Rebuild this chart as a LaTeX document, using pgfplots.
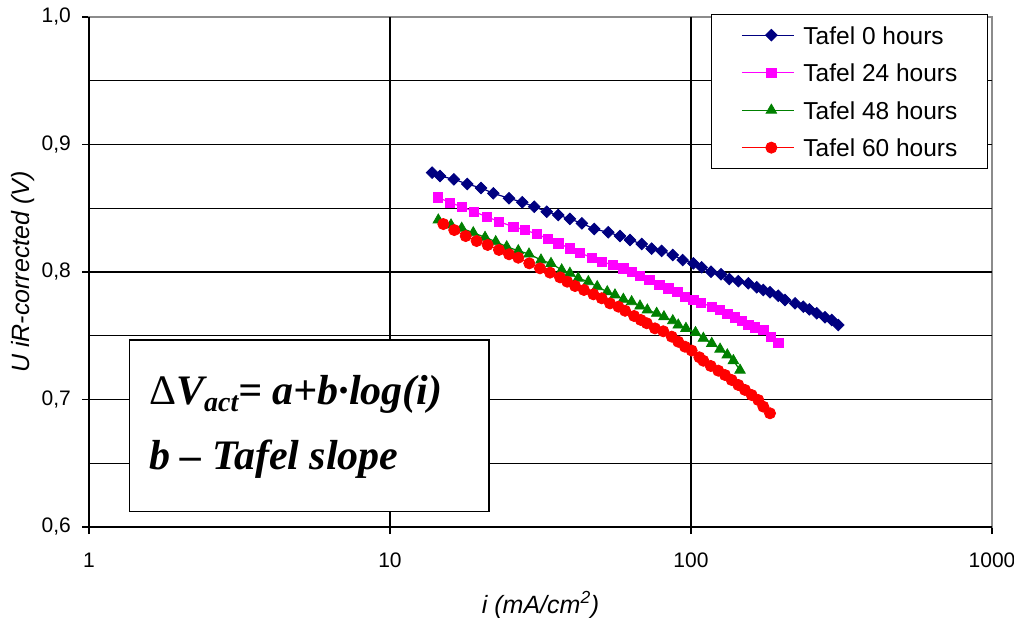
\documentclass[border=0pt]{standalone}
\usepackage{fontspec}
\setmainfont{Liberation Sans}
\newfontfamily\tnr{Liberation Serif}
\usepackage{pgfplots}
\pgfplotsset{compat=1.18}
\definecolor{navyc}{RGB}{0,0,128}
\definecolor{magc}{RGB}{255,0,255}
\definecolor{greenc}{RGB}{0,128,0}
\definecolor{redc}{RGB}{255,0,0}

\pgfplotstableread{
i V
13.8 0.8779
14.66 0.8753
16.3 0.8727
18.06 0.8690
20.06 0.8659
22.04 0.8617
24.86 0.8578
27.52 0.8547
30.16 0.8512
33.16 0.8473
36.2 0.8447
39.6 0.8416
43.4 0.8382
47.7 0.8337
53.1 0.8311
58.1 0.8282
62.7 0.8251
68.6 0.8220
74.0 0.8183
79.9 0.8165
87.0 0.8133
93.8 0.8094
101.8 0.8068
108.5 0.8037
116.5 0.8002
125.8 0.7982
134.1 0.7945
143.6 0.7928
155.0 0.7911
165.3 0.7880
173.9 0.7859
183.0 0.7841
195.0 0.7814
205.3 0.7780
221.6 0.7754
236.1 0.7728
247.2 0.7707
261.6 0.7676
278.8 0.7645
293.5 0.7624
308.7 0.7584
}\tafelA

\pgfplotstableread{
i V
14.41 0.8586
15.83 0.8544
17.31 0.8512
19.02 0.8473
20.96 0.8434
23.02 0.8395
25.68 0.8355
28.09 0.8329
30.73 0.8298
33.42 0.8260
36.24 0.8225
39.6 0.8186
42.8 0.8151
46.8 0.8112
50.5 0.8081
55.0 0.8055
59.6 0.8029
63.5 0.8002
67.7 0.7969
72.7 0.7937
78.5 0.7898
84.1 0.7872
90.1 0.7846
95.5 0.7806
101.8 0.7780
108.0 0.7758
117.2 0.7728
124.9 0.7702
132.0 0.7671
140.0 0.7645
147.4 0.7616
155.0 0.7584
163.2 0.7566
173.9 0.7545
184.0 0.7493
195.0 0.7446
}\tafelB

\pgfplotstableread{
i V
14.47 0.8408
15.95 0.8369
17.31 0.8343
18.91 0.8308
20.69 0.8272
22.45 0.8238
24.42 0.8198
26.68 0.8167
28.96 0.8141
31.74 0.8094
34.27 0.8067
37.19 0.8016
39.6 0.7990
42.2 0.7951
45.6 0.7924
48.8 0.7885
52.7 0.7845
55.9 0.7820
59.6 0.7786
63.5 0.7767
67.7 0.7733
71.6 0.7702
76.9 0.7676
81.3 0.7649
87.0 0.7618
90.7 0.7584
96.2 0.7558
103.5 0.7525
109.9 0.7480
117.2 0.7440
124.9 0.7395
132.0 0.7350
138.3 0.7305
145.5 0.7230
}\tafelC

\pgfplotstableread{
i V
15.04 0.8376
16.35 0.8329
17.85 0.8282
19.41 0.8243
21.11 0.8212
23.02 0.8173
24.86 0.8139
26.68 0.8112
29.02 0.8068
31.50 0.8029
34.01 0.7995
36.72 0.7958
38.8 0.7924
41.2 0.7890
44.1 0.7859
47.4 0.7825
50.5 0.7794
53.8 0.7754
57.4 0.7728
60.4 0.7696
64.7 0.7655
68.1 0.7624
71.3 0.7598
75.9 0.7558
80.9 0.7535
86.3 0.7493
90.7 0.7453
95.5 0.7414
100.5 0.7384
106.6 0.7331
109.9 0.7304
116.3 0.7263
123.2 0.7226
129.7 0.7192
136.5 0.7153
143.6 0.7114
151.1 0.7075
159.1 0.7035
167.3 0.6996
173.9 0.6944
183.0 0.6892
}\tafelD

\begin{document}
\begin{tikzpicture}[x=1pt,y=1pt]
\path[use as bounding box] (0,0) rectangle (1014,618);
\begin{axis}[
  at={(89pt,91pt)}, anchor=south west,
  scale only axis, width=903pt, height=510pt,
  xmode=log, xmin=1, xmax=1000, ymin=0.6, ymax=1.0,
  xtick={1,10,100,1000}, xticklabels={1,10,100,1000},
  xminorticks=false,
  ytick={0.6,0.7,0.8,0.9,1.0}, yticklabels={{0,6},{0,7},{0,8},{0,9},{1,0}},
  extra y ticks={0.65,0.7,0.75,0.8,0.85,0.9,0.95},
  extra y tick labels={},
  extra y tick style={grid=major, major tick length=0pt},
  extra x ticks={10,100},
  extra x tick labels={},
  extra x tick style={grid=major, major tick length=0pt},
  major grid style={black, line width=1.3pt},
  xtick pos=bottom, ytick pos=left,
  tick align=outside, major tick length=7pt,
  tick style={black, line width=1.3pt},
  axis line style={black!45, line width=1.3pt},
  tick label style={font=\fontsize{21}{25}\selectfont},
  xticklabel style={anchor=north, inner sep=0pt, yshift=-19pt},
  yticklabel style={anchor=east, inner sep=0pt, xshift=-11pt},
  xlabel={\itshape i (mA/cm\textsuperscript{2})},
  ylabel={\itshape U iR-corrected (V)},
  label style={font=\fontsize{25}{30}\selectfont},
  xlabel style={at={(rel axis cs:0.5,0)}, anchor=base, yshift=-86pt, inner sep=0pt},
  ylabel style={at={(rel axis cs:0,0.5)}, anchor=center, yshift=66pt, inner sep=0pt},
  legend cell align=left,
  legend style={at={(rel axis cs:0.99557,1.00588)}, anchor=north east,
    draw=black, line width=1.3pt, fill=white,
    font=\fontsize{24.5}{29}\selectfont,
    inner xsep=30pt, inner ysep=11.5pt,
    column sep=9pt, row sep=19.5pt,
    nodes={inner sep=0pt, text height=18pt, text depth=0pt}},
  legend image code/.code={
    \path (0pt,0pt) -- (7pt,0pt);
    \draw[mark repeat=2,mark phase=2] plot coordinates {(7pt,0pt) (29.5pt,0pt) (52pt,0pt)};},
]
\addplot[color=navyc, line width=1.2pt, mark=square*, mark size=4.1pt,
  mark options={solid, fill=navyc, rotate=45, line width=0.8pt}] table[x=i,y=V] {\tafelA};
\addlegendentry{Tafel 0 hours}
\addplot[color=magc, line width=1.2pt, mark=square*, mark size=4.7pt,
  mark options={solid, fill=magc, line width=0.8pt}] table[x=i,y=V] {\tafelB};
\addlegendentry{Tafel 24 hours}
\addplot[color=greenc, line width=1.2pt, mark=triangle*, mark size=6pt,
  mark options={solid, fill=greenc, line width=0.8pt}] table[x=i,y=V] {\tafelC};
\addlegendentry{Tafel 48 hours}
\addplot[color=redc, line width=1.2pt, mark=*, mark size=5.6pt,
  mark options={solid, fill=redc, line width=0.8pt}] table[x=i,y=V] {\tafelD};
\addlegendentry{Tafel 60 hours}
\end{axis}
\draw[black, line width=1.6pt] (89,601) -- (89,91) -- (992,91);
\draw[black, line width=1.5pt, fill=white] (129.3,106.3) rectangle (489,278);
\node[anchor=base west, inner sep=0pt] at (149,213) {\tnr\fontsize{42}{48}\selectfont
  \upshape\mdseries Δ\bfseries\itshape V\raisebox{-7pt}{\fontsize{28}{32}\selectfont act}= a+b·log(i)};
\node[anchor=base west, inner sep=0pt] at (149,148) {\tnr\fontsize{42}{48}\selectfont
  \bfseries\itshape b – Tafel slope};
\end{tikzpicture}
\end{document}
